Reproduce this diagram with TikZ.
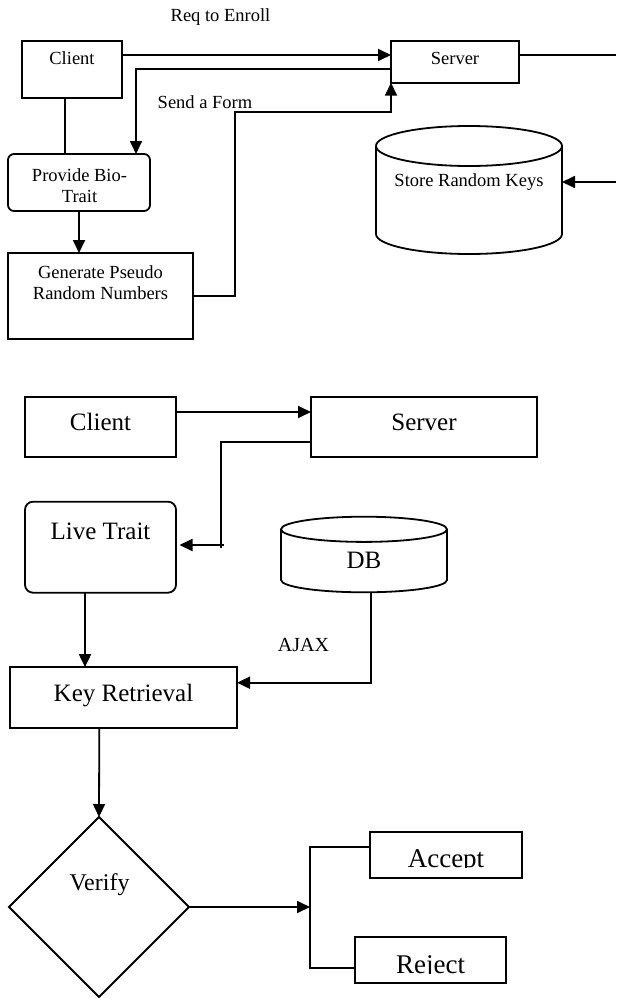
\documentclass[tikz,border=0pt]{standalone}
\usepackage{fontspec}
\setmainfont{Liberation Serif}
\usetikzlibrary{arrows.meta,shapes.geometric}
\begin{document}
\begin{tikzpicture}[x=1pt,y=-1pt,
  ln/.style={line width=1.8pt},
  arr/.style={ln,-{Triangle[length=13pt,width=12pt]}},
  box/.style={draw,ln,rectangle,inner sep=0pt,outer sep=0pt},
  rbox/.style={box,rounded corners=6pt},
  area/.style={inner sep=0pt,outer sep=0pt},
  smalltxt/.style={font=\fontsize{18.5}{21}\selectfont,inner sep=0pt,anchor=base},
  bigtxt/.style={font=\fontsize{25}{28}\selectfont,inner sep=0pt,anchor=base},
  ajaxtxt/.style={font=\fontsize{20}{23}\selectfont,inner sep=0pt,anchor=base},
  verifytxt/.style={font=\fontsize{24}{27}\selectfont,inner sep=0pt,anchor=base},
  choicetxt/.style={font=\fontsize{27}{30}\selectfont,inner sep=0pt,anchor=base},
]
\useasboundingbox (0,0) rectangle (616,998);

% ---------------- Enrollment ----------------
\node[box,minimum width=100pt,minimum height=57pt] (client1) at (72,69.2) {};
\node[box,minimum width=128pt,minimum height=42pt] (server1) at (455,61.7) {};
\node[rbox,minimum width=142pt,minimum height=57pt] (provide) at (79,182.5) {};
\node[box,minimum width=185pt,minimum height=86pt] (generate) at (100.5,296) {};
\node[area,minimum width=186pt,minimum height=128pt] (store) at (469,190) {};
\draw[ln] (376,146) -- (376,234) arc[start angle=180,end angle=0,x radius=93,y radius=20] -- (562,146);
\draw[ln] (469,146) ellipse [x radius=93,y radius=20];

\node[smalltxt] (reqT) at (220.5,22) {Req to Enroll};
\node[smalltxt] (client1T) at (72,65) {Client};
\node[smalltxt] (server1T) at (455,65) {Server};
\node[smalltxt] (sendT) at (205,108) {Send a Form};
\node[smalltxt,anchor=center,align=center] (provideT) at (79.5,185.5) {Provide Bio-\\Trait};
\node[smalltxt,anchor=center,align=center] (generateT) at (100.5,282.2) {Generate Pseudo\\Random Numbers};
\node[smalltxt] (storeT) at (469,186) {Store Random Keys};

\coordinate (g1) at (235,112);
\coordinate (edgeA) at (616,55);
\coordinate (edgeB) at (616,182);

\draw[arr] ([yshift=14.2pt]client1.east) -- ([yshift=6.7pt]server1.west);
\draw[arr] ([yshift=-7.6pt]server1.west) -| ([xshift=57pt]provide.north);
\draw[ln] ([xshift=-7pt]client1.south) -- ([xshift=-14pt]provide.north);
\draw[arr] (provide.south) -- ([xshift=-21.5pt]generate.north);
\draw[arr] (generate.east) -| (g1) -| (server1.south west);
\draw[ln] ([yshift=6.7pt]server1.east) -- (edgeA);
\draw[arr] (edgeB) -- (store.east |- edgeB);

% ---------------- Verification ----------------
\node[box,minimum width=151pt,minimum height=60.6pt] (client2) at (100.5,427) {};
\node[box,minimum width=226pt,minimum height=60.6pt] (server2) at (424,427) {};
\node[box,rounded corners=8pt,minimum width=151pt,minimum height=91pt] (live) at (100.5,547.2) {};
\node[area,minimum width=166pt,minimum height=75.6pt] (db) at (364,554.5) {};
\draw[ln] (281,529.3) -- (281,580) arc[start angle=180,end angle=0,x radius=83,y radius=12.3] -- (447,529.3);
\draw[ln] (364,529.3) ellipse [x radius=83,y radius=12.6];
\node[box,minimum width=227pt,minimum height=60.7pt] (key) at (123.5,697.5) {};
\node[draw,ln,diamond,inner sep=0pt,outer sep=0pt,minimum width=180pt,minimum height=180pt] (verify) at (99,907) {};
\node[box,minimum width=152pt,minimum height=45.4pt] (accept) at (446,855) {};
\node[box,minimum width=151pt,minimum height=45.7pt] (reject) at (430.5,959.8) {};

\node[bigtxt] (client2T) at (100.5,430.7) {Client};
\node[bigtxt] (server2T) at (424,430.7) {Server};
\node[bigtxt] (liveT) at (100.5,539) {Live Trait};
\node[bigtxt] (dbT) at (364,568) {DB};
\node[ajaxtxt] (ajaxT) at (303.5,651.5) {AJAX};
\node[bigtxt] (keyT) at (123.5,701.5) {Key Retrieval};
\node[verifytxt] (verifyT) at (99.5,890) {Verify};
\begin{scope}
  \clip (370,832.3) rectangle (522,867.5);
  \node[choicetxt] (acceptT) at (446,867) {Accept};
\end{scope}
\begin{scope}
  \clip (355,937) rectangle (506,973.5);
  \node[choicetxt] (rejectT) at (430.5,973) {Reject};
\end{scope}

\coordinate (lt1) at (221,547.7);
\coordinate (lt2) at (224,545);
\coordinate (jn) at (310,907);

\draw[arr] ([yshift=15pt]client2.east) -- ([yshift=15pt]server2.west);
\draw[ln] ([yshift=-14.7pt]server2.west) -| (lt1);
\draw[arr] (lt2) -- ([xshift=3.5pt,yshift=2.2pt]live.east);
\draw[arr] ([xshift=-15.5pt]live.south) -- ([xshift=-38.5pt]key.north);
\draw[arr] ([xshift=7pt]db.south) |- ([yshift=14.8pt]key.east);
\draw[arr] ([xshift=-24.2pt]key.south) -- (verify.north);
\draw[arr] (verify.east) -- (jn);
\draw[ln] ([yshift=8pt]accept.west) -| (jn) |- ([yshift=-7.9pt]reject.west);
\end{tikzpicture}
\end{document}
